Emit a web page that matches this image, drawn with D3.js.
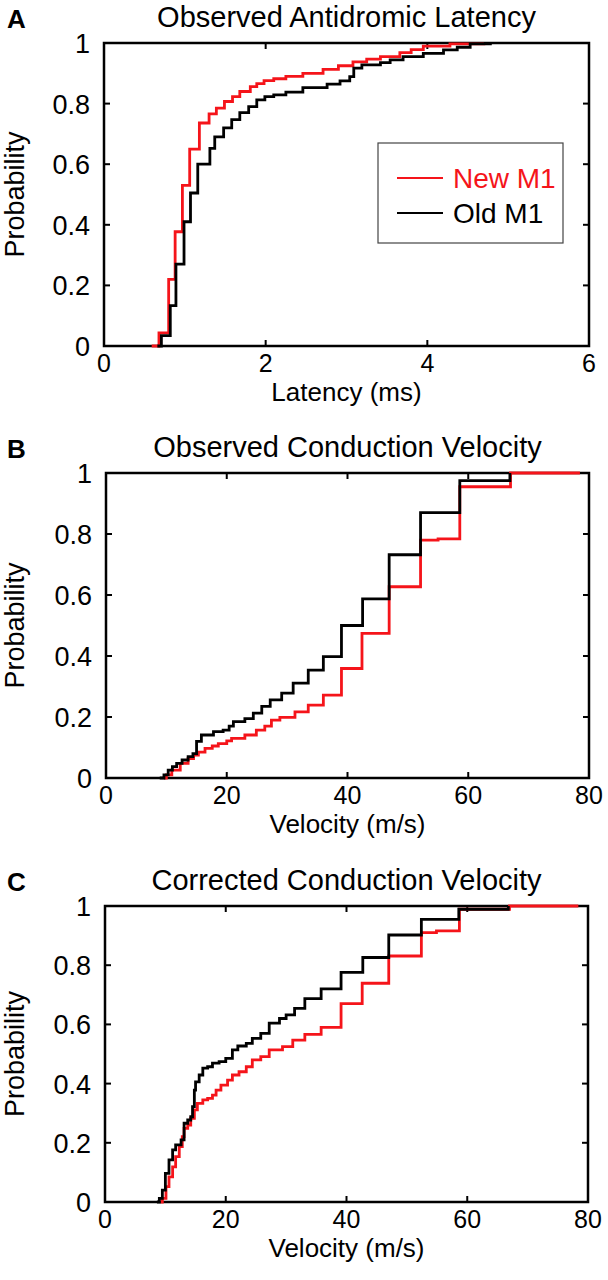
<!DOCTYPE html>
<html><head><meta charset="utf-8">
<script src="https://cdn.jsdelivr.net/npm/d3@7/dist/d3.min.js"></script>
<style>
html,body{margin:0;padding:0;background:#fff;}
svg{display:block;font-family:"Liberation Sans",Arial,Helvetica,sans-serif;}
</style></head>
<body>
<script>
// ---------- data ----------
const probTicks = [0, 0.2, 0.4, 0.6, 0.8, 1];
const probTickLabels = ["0", "0.2", "0.4", "0.6", "0.8", "1"];
const latencyTicks = [0, 2, 4, 6];
const velocityTicks = [0, 20, 40, 60, 80];
const seriesNames = ["New M1", "Old M1"];

// Panel A: observed antidromic latency (ms), empirical CDF steps
const latNewX = [0.59, 0.68, 0.80, 0.88, 0.97, 1.06, 1.18, 1.30, 1.39, 1.49, 1.59, 1.68, 1.81, 1.89, 1.98, 2.10, 2.25, 2.46, 2.71, 2.90, 3.08, 3.25, 3.42, 3.66, 3.80, 3.95, 4.28, 4.70];
const latNewP = [0, 0.043, 0.22, 0.377, 0.53, 0.65, 0.736, 0.766, 0.785, 0.807, 0.823, 0.84, 0.856, 0.866, 0.876, 0.882, 0.89, 0.90, 0.913, 0.925, 0.938, 0.947, 0.955, 0.968, 0.978, 0.99, 0.997, 1.0];
const latOldX = [0.66, 0.71, 0.82, 0.89, 0.99, 1.07, 1.16, 1.31, 1.37, 1.48, 1.58, 1.68, 1.79, 1.89, 1.99, 2.10, 2.25, 2.46, 2.76, 2.92, 3.04, 3.09, 3.19, 3.42, 3.54, 3.70, 3.95, 4.20, 4.37, 4.53, 4.78];
const latOldP = [0, 0.034, 0.133, 0.27, 0.41, 0.505, 0.60, 0.652, 0.69, 0.72, 0.747, 0.77, 0.79, 0.812, 0.823, 0.829, 0.838, 0.853, 0.864, 0.875, 0.889, 0.917, 0.928, 0.935, 0.944, 0.955, 0.966, 0.977, 0.986, 0.997, 1.0];

// Panel B: observed conduction velocity (m/s)
const obsNewX = [9.6, 10.0, 10.9, 12.3, 13.6, 14.5, 15.3, 16.4, 17.6, 18.6, 20.0, 20.8, 23.0, 24.9, 26.3, 27.4, 28.8, 31.3, 33.5, 36.0, 39.0, 42.4, 46.9, 52.1, 55.0, 58.6, 67.0, 78.5];
const obsNewP = [0, 0.01, 0.026, 0.048, 0.064, 0.075, 0.085, 0.097, 0.105, 0.113, 0.122, 0.13, 0.141, 0.157, 0.17, 0.19, 0.199, 0.217, 0.239, 0.272, 0.359, 0.474, 0.627, 0.78, 0.784, 0.955, 1.0, 1.0];
const obsOldX = [8.9, 9.6, 10.3, 11.0, 11.7, 12.6, 13.6, 14.4, 15.0, 15.8, 17.8, 19.4, 20.4, 21.1, 23.0, 24.4, 25.8, 27.2, 29.1, 31.0, 33.5, 36.0, 39.0, 42.5, 46.9, 52.1, 58.6, 66.9];
const obsOldP = [0, 0.01, 0.026, 0.037, 0.048, 0.059, 0.07, 0.08, 0.12, 0.141, 0.152, 0.157, 0.17, 0.185, 0.195, 0.213, 0.235, 0.256, 0.278, 0.311, 0.354, 0.398, 0.50, 0.587, 0.732, 0.87, 0.975, 1.0];

// Panel C: corrected conduction velocity (m/s)
const corNewX = [9.2, 9.5, 10.1, 10.6, 11.2, 11.7, 12.3, 12.8, 13.1, 13.7, 14.2, 14.8, 15.3, 16.2, 17.0, 17.8, 18.4, 19.2, 20.3, 21.1, 22.2, 23.4, 24.4, 25.8, 27.2, 29.4, 31.1, 33.1, 35.8, 39.1, 42.6, 47.0, 52.4, 54.9, 58.7, 67.0, 78.4];
const corNewP = [0, 0.012, 0.052, 0.085, 0.119, 0.153, 0.187, 0.221, 0.249, 0.26, 0.283, 0.311, 0.333, 0.345, 0.35, 0.361, 0.378, 0.395, 0.412, 0.429, 0.44, 0.457, 0.48, 0.491, 0.514, 0.525, 0.547, 0.566, 0.59, 0.67, 0.739, 0.831, 0.91, 0.916, 0.989, 1.0, 1.0];
const corOldX = [8.6, 9.0, 9.5, 10.0, 10.6, 11.2, 11.7, 12.6, 13.1, 13.7, 14.2, 14.5, 14.8, 15.0, 15.6, 16.2, 17.0, 17.8, 18.9, 20.0, 21.1, 22.0, 23.4, 24.4, 25.8, 27.2, 28.9, 30.0, 31.4, 33.1, 35.8, 39.1, 42.7, 47.0, 52.4, 58.6, 66.8];
const corOldP = [0, 0.012, 0.04, 0.097, 0.142, 0.176, 0.193, 0.21, 0.266, 0.277, 0.288, 0.322, 0.378, 0.406, 0.429, 0.452, 0.457, 0.469, 0.474, 0.485, 0.514, 0.527, 0.536, 0.553, 0.57, 0.604, 0.62, 0.632, 0.654, 0.687, 0.72, 0.776, 0.826, 0.902, 0.955, 0.989, 1.0];

// ---------- styles / layout ----------
const RED = "#f5141a", BLACK = "#000";
const W = 608, H = 1280;
const panels = [
  {letter: "A", title: "Observed Antidromic Latency", xlabel: "Latency (ms)", domain: [0, 6], ticks: latencyTicks,
   box: {l: 104, r: 589, t: 43, b: 346}, legend: true,
   series: [{x: latNewX, p: latNewP, c: RED}, {x: latOldX, p: latOldP, c: BLACK}]},
  {letter: "B", title: "Observed Conduction Velocity", xlabel: "Velocity (m/s)", domain: [0, 80], ticks: velocityTicks,
   box: {l: 106, r: 589, t: 473, b: 778}, legend: false,
   series: [{x: obsNewX, p: obsNewP, c: RED}, {x: obsOldX, p: obsOldP, c: BLACK}]},
  {letter: "C", title: "Corrected Conduction Velocity", xlabel: "Velocity (m/s)", domain: [0, 80], ticks: velocityTicks,
   box: {l: 105, r: 588, t: 906, b: 1202}, legend: false,
   series: [{x: corNewX, p: corNewP, c: RED}, {x: corOldX, p: corOldP, c: BLACK}]}
];

const svg = d3.select("body").append("svg").attr("width", W).attr("height", H);
svg.append("rect").attr("width", W).attr("height", H).attr("fill", "#fff");

panels.forEach(P => {
  const bx = P.box;
  const x = d3.scaleLinear().domain(P.domain).range([bx.l, bx.r]);
  const y = d3.scaleLinear().domain([0, 1]).range([bx.b, bx.t]);
  const g = svg.append("g");
  const TL = 6;

  // ticks inward on all sides
  const ax = g.append("g").attr("stroke", "#000").attr("stroke-width", 2);
  P.ticks.forEach(t => {
    ax.append("line").attr("x1", x(t)).attr("x2", x(t)).attr("y1", bx.b).attr("y2", bx.b - TL);
    ax.append("line").attr("x1", x(t)).attr("x2", x(t)).attr("y1", bx.t).attr("y2", bx.t + TL);
  });
  probTicks.forEach(t => {
    ax.append("line").attr("y1", y(t)).attr("y2", y(t)).attr("x1", bx.l).attr("x2", bx.l + TL);
    ax.append("line").attr("y1", y(t)).attr("y2", y(t)).attr("x1", bx.r).attr("x2", bx.r - TL);
  });
  g.append("rect").attr("x", bx.l).attr("y", bx.t).attr("width", bx.r - bx.l).attr("height", bx.b - bx.t)
    .attr("fill", "none").attr("stroke", "#000").attr("stroke-width", 2.5);

  // tick labels
  P.ticks.forEach(t => {
    g.append("text").attr("x", x(t)).attr("y", bx.b + 26).attr("text-anchor", "middle")
      .attr("font-size", 25).text(t);
  });
  probTicks.forEach((t, i) => {
    g.append("text").attr("x", bx.l - 14).attr("y", y(t) + 10).attr("text-anchor", "end")
      .attr("font-size", 27).text(probTickLabels[i]);
  });

  // labels
  g.append("text").attr("x", (bx.l + bx.r) / 2).attr("y", bx.b + 55).attr("text-anchor", "middle")
    .attr("font-size", 26).text(P.xlabel);
  g.append("text").attr("transform", `translate(24,${(bx.t + bx.b) / 2}) rotate(-90)`)
    .attr("text-anchor", "middle").attr("font-size", 27).text("Probability");
  g.append("text").attr("x", (bx.l + bx.r) / 2).attr("y", bx.t - 16).attr("text-anchor", "middle")
    .attr("font-size", 29).text(P.title);
  g.append("text").attr("x", 7).attr("y", bx.t - 15).attr("font-size", 26).attr("font-weight", "bold").text(P.letter);

  // data
  const line = d3.line().x(d => x(d[0])).y(d => y(d[1])).curve(d3.curveStepAfter);
  P.series.forEach(s => {
    const pts = s.x.map((v, i) => [v, s.p[i]]);
    g.append("path").attr("d", line(pts)).attr("fill", "none").attr("stroke", s.c)
      .attr("stroke-width", 2.8).attr("stroke-linejoin", "miter");
  });

  // legend
  if (P.legend) {
    const lg = g.append("g");
    lg.append("rect").attr("x", 378).attr("y", 143).attr("width", 185).attr("height", 100)
      .attr("fill", "#fff").attr("stroke", "#444").attr("stroke-width", 1.2);
    [RED, BLACK].forEach((c, i) => {
      const yy = 178 + i * 35;
      lg.append("line").attr("x1", 397).attr("x2", 443).attr("y1", yy).attr("y2", yy)
        .attr("stroke", c).attr("stroke-width", 2);
      lg.append("text").attr("x", 453).attr("y", yy + 10).attr("font-size", 28).attr("fill", c)
        .text(seriesNames[i]);
    });
  }
});
</script>
</body></html>
